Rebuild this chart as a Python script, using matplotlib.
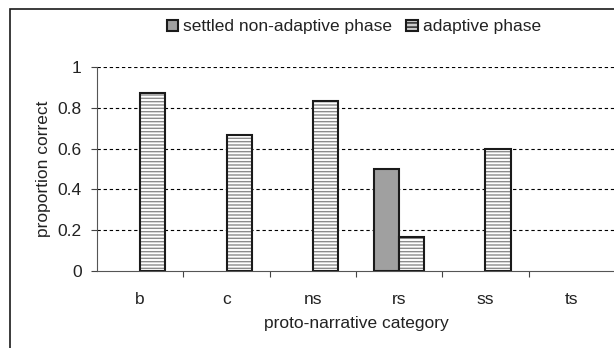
import matplotlib
matplotlib.use("Agg")
import matplotlib.pyplot as plt
import numpy as np
from matplotlib.patches import Rectangle, Patch

categories = ["b", "c", "ns", "rs", "ss", "ts"]
settled = [0, 0, 0, 0.5, 0, 0]
adaptive = [0.875, 0.667, 0.833, 0.167, 0.6, 0]
yticks = [0, 0.2, 0.4, 0.6, 0.8, 1]
ytick_labels = ["0", "0.2", "0.4", "0.6", "0.8", "1"]

plt.rcParams['font.family'] = ['Liberation Sans', 'DejaVu Sans']
plt.rcParams['hatch.linewidth'] = 1.0
FS = 12.5

fig = plt.figure(figsize=(6.14, 3.48), dpi=100)
ax = fig.add_axes([97/614, 1-270.7/348, 518/614, (270.7-67.3)/348])

x = np.arange(len(categories))
w = 0.29
for xi, v in zip(x, settled):
    if v > 0:
        ax.bar(xi - w/2, v, width=w, color="#a0a0a0", edgecolor="#1a1a1a", linewidth=1.5, zorder=3)
for xi, v in zip(x, adaptive):
    if v > 0:
        ax.bar(xi + w/2, v, width=w, color="white", edgecolor="#8c8c8c", hatch="-----", linewidth=0, zorder=3)
        ax.bar(xi + w/2, v, width=w, fill=False, edgecolor="#1a1a1a", linewidth=1.5, zorder=4)

ax.set_xlim(-0.5, 5.5)
ax.set_ylim(0, 1)
ax.set_yticks(yticks)
ax.set_yticklabels(ytick_labels, fontsize=FS, color="#222222")
ax.set_xticks(np.arange(0.5, 5.5, 1.0))
ax.set_xticklabels([])
ax.set_xticks(x, minor=True)
ax.set_xticklabels(categories, minor=True, fontsize=FS, color="#222222")
ax.tick_params(axis='x', which='major', direction='out', length=4, color="#444444")
ax.tick_params(axis='x', which='minor', length=0, pad=15)
ax.tick_params(axis='y', direction='out', length=4, color="#444444", pad=7)

for y in yticks[1:]:
    ax.axhline(y, color="black", linestyle=(0, (3, 2.5)), linewidth=0.8, zorder=1)

ax.spines['top'].set_visible(False)
ax.spines['right'].set_visible(False)
ax.spines['left'].set_color("#555555")
ax.spines['bottom'].set_color("#555555")

ax.set_ylabel("proportion correct", fontsize=FS, labelpad=5, color="#222222")
ax.set_xlabel("proto-narrative category", fontsize=FS, labelpad=7, color="#222222")

handles = [Patch(facecolor="#a0a0a0", edgecolor="#1a1a1a", linewidth=1.5),
           Patch(facecolor="#cccccc", edgecolor="#1a1a1a", hatch="----", linewidth=1.5)]
fig.legend(handles, ["settled non-adaptive phase", "adaptive phase"], loc="center",
           bbox_to_anchor=(354/614, 1-27/348), ncol=2, frameon=False, fontsize=FS,
           handlelength=0.65, handleheight=0.65, handletextpad=0.3, columnspacing=0.8,
           labelcolor="#222222")

fig.patches.append(Rectangle((10/614, -0.1), 1.2, 1-9/348+0.1, transform=fig.transFigure,
                             fill=False, edgecolor="#1a1a1a", linewidth=1.2))

fig.savefig("out.png", dpi=100)
